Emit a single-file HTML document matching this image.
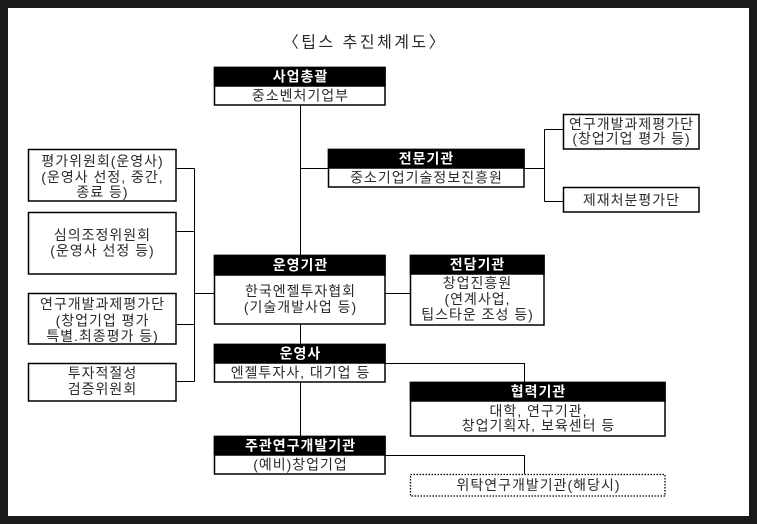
<!DOCTYPE html>
<html>
<head>
<meta charset="utf-8">
<style>
  html, body { margin:0; padding:0; background:#1a1a1a; }
  svg { display:block; }
  text { font-family: "Liberation Sans", "Noto Sans CJK KR", sans-serif; font-size:14px; letter-spacing:1px; fill:#2a2a2a; }
  .h { font-weight:bold; fill:#fff; letter-spacing:1px; }
  .t { font-size:16px; fill:#2a2a2a; letter-spacing:2.5px; }
</style>
</head>
<body>
<svg width="757" height="524" viewBox="0 0 757 524" xmlns="http://www.w3.org/2000/svg">
  <rect x="0" y="0" width="757" height="524" fill="#1a1a1a"/>
  <rect x="8" y="8" width="741" height="508" fill="#ffffff"/>

  <!-- Title -->
  <text class="t" x="365" y="43" text-anchor="middle" dominant-baseline="central">〈팁스 추진체계도〉</text>

  <!-- Connectors -->
  <g stroke="#000" stroke-width="1" fill="none">
    <line x1="300.5" y1="105" x2="300.5" y2="255"/>
    <line x1="300.5" y1="324" x2="300.5" y2="344"/>
    <line x1="300.5" y1="382" x2="300.5" y2="436"/>
    <line x1="300.5" y1="168.5" x2="328" y2="168.5"/>
    <!-- 전문기관 right -->
    <line x1="524" y1="168.5" x2="544.5" y2="168.5"/>
    <line x1="544.5" y1="129.5" x2="544.5" y2="201.5"/>
    <line x1="544.5" y1="129.5" x2="563" y2="129.5"/>
    <line x1="544.5" y1="201.5" x2="563" y2="201.5"/>
    <!-- left side -->
    <line x1="194.5" y1="168.5" x2="194.5" y2="381.5"/>
    <line x1="176" y1="168.5" x2="194.5" y2="168.5"/>
    <line x1="176" y1="231.5" x2="194.5" y2="231.5"/>
    <line x1="176" y1="324.5" x2="194.5" y2="324.5"/>
    <line x1="176" y1="381.5" x2="194.5" y2="381.5"/>
    <line x1="194.5" y1="293.5" x2="214" y2="293.5"/>
    <!-- 운영기관 -> 전담기관 -->
    <line x1="385" y1="293.5" x2="410" y2="293.5"/>
    <!-- 운영사 -> 협력기관 -->
    <polyline points="385,363.5 524.5,363.5 524.5,382"/>
    <!-- 주관 -> 위탁 -->
    <polyline points="385,455.5 524.5,455.5 524.5,474"/>
  </g>

  <!-- Boxes with headers -->
  <g stroke="#000" stroke-width="1.5">
    <rect x="214.5" y="67.5" width="170.5" height="37.5" fill="#fff"/>
    <rect x="214.5" y="67.5" width="170.5" height="18.5" fill="#000"/>
    <rect x="328.5" y="149.5" width="195.5" height="37.5" fill="#fff"/>
    <rect x="328.5" y="149.5" width="195.5" height="18.5" fill="#000"/>
    <rect x="214.5" y="255.5" width="170.5" height="68.5" fill="#fff"/>
    <rect x="214.5" y="255.5" width="170.5" height="19.5" fill="#000"/>
    <rect x="410.5" y="255.5" width="133.5" height="69.5" fill="#fff"/>
    <rect x="410.5" y="255.5" width="133.5" height="18.5" fill="#000"/>
    <rect x="214.5" y="344.5" width="170.5" height="37.5" fill="#fff"/>
    <rect x="214.5" y="344.5" width="170.5" height="18.5" fill="#000"/>
    <rect x="410.5" y="382.5" width="254.5" height="53.5" fill="#fff"/>
    <rect x="410.5" y="382.5" width="254.5" height="18.5" fill="#000"/>
    <rect x="214.5" y="436.5" width="170.5" height="37.5" fill="#fff"/>
    <rect x="214.5" y="436.5" width="170.5" height="18.5" fill="#000"/>

    <rect x="563.5" y="114.5" width="135.5" height="34.5" fill="#fff"/>
    <rect x="563.5" y="187.5" width="135.5" height="24.5" fill="#fff"/>
    <rect x="28.5" y="149.5" width="147.5" height="51.5" fill="#fff"/>
    <rect x="28.5" y="212.5" width="147.5" height="61.5" fill="#fff"/>
    <rect x="28.5" y="293.5" width="147.5" height="50.5" fill="#fff"/>
    <rect x="28.5" y="363.5" width="147.5" height="37.5" fill="#fff"/>
  </g>
  <rect x="410.5" y="474.5" width="254.5" height="21.5" fill="#fff" stroke="#000" stroke-width="1.3" stroke-dasharray="1.5,1.5"/>

  <g text-anchor="middle" dominant-baseline="central">
    <text class="h" x="300.5" y="76.5">사업총괄</text>
    <text class="h" x="426.5" y="158.5">전문기관</text>
    <text class="h" x="300.5" y="265">운영기관</text>
    <text class="h" x="477.5" y="264.5">전담기관</text>
    <text class="h" x="300.5" y="353.5">운영사</text>
    <text class="h" x="538.5" y="391.5">협력기관</text>
    <text class="h" x="300.5" y="445.5">주관연구개발기관</text>

    <text x="300.5" y="95.5">중소벤처기업부</text>
    <text x="426.5" y="177.5">중소기업기술정보진흥원</text>
    <text x="300.5" y="291">한국엔젤투자협회</text>
    <text x="300.5" y="307">(기술개발사업 등)</text>
    <text x="477.5" y="283">창업진흥원</text>
    <text x="477.5" y="299">(연계사업,</text>
    <text x="477.5" y="314.5">팁스타운 조성 등)</text>
    <text x="300.5" y="372.5">엔젤투자사, 대기업 등</text>
    <text x="538.5" y="411">대학, 연구기관,</text>
    <text x="538.5" y="425.5">창업기획자, 보육센터 등</text>
    <text x="300.5" y="464.5">(예비)창업기업</text>
    <text x="538.5" y="485">위탁연구개발기관(해당시)</text>

    <text x="631.5" y="124">연구개발과제평가단</text>
    <text x="631.5" y="138.5">(창업기업 평가 등)</text>
    <text x="631.5" y="200">제재처분평가단</text>

    <text x="102.5" y="161">평가위원회(운영사)</text>
    <text x="102.5" y="177">(운영사 선정, 중간,</text>
    <text x="102.5" y="192">종료 등)</text>

    <text x="102.5" y="235">심의조정위원회</text>
    <text x="102.5" y="250.5">(운영사 선정 등)</text>

    <text x="102.5" y="304">연구개발과제평가단</text>
    <text x="102.5" y="320.5">(창업기업 평가</text>
    <text x="102.5" y="336">특별.최종평가 등)</text>

    <text x="102.5" y="373">투자적절성</text>
    <text x="102.5" y="389">검증위원회</text>
  </g>
</svg>
</body>
</html>
